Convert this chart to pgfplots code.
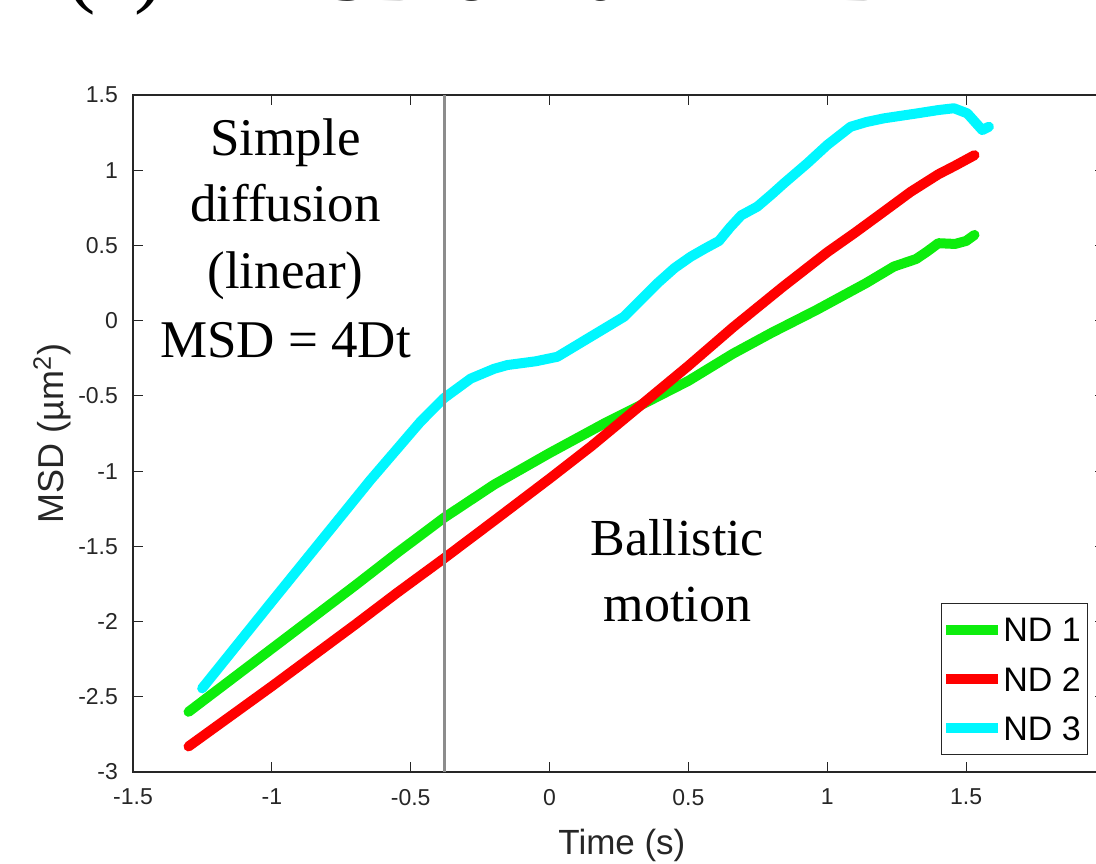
\documentclass[border=0pt]{standalone}
\usepackage{pgfplots}
\pgfplotsset{compat=1.18}
\usepackage{fontspec}
\setmainfont{Liberation Sans}
\newfontfamily\seriffont{Liberation Serif}
\definecolor{ndgreen}{rgb}{0.05,0.93,0.05}
\definecolor{ndred}{rgb}{1,0,0}
\definecolor{ndcyan}{rgb}{0,0.97,1}
\definecolor{axgray}{rgb}{0.15,0.15,0.15}
\definecolor{vgray}{rgb}{0.55,0.55,0.55}

\begin{document}
\begin{tikzpicture}
\path[use as bounding box, clip] (-66.5pt,-45.5pt) rectangle (481.5pt,386pt);
\node[anchor=base west, inner sep=0pt, font=\seriffont\fontsize{44}{44}\selectfont] at (-33.5pt,387.5pt) {(c)};
\node[anchor=base west, inner sep=0pt, font=\seriffont\bfseries\fontsize{41}{41}\selectfont] at (57.5pt,385.8pt) {MSD of 10 nm ND};
\begin{axis}[
  scale only axis, width=486pt, height=338.5pt,
  xmin=-1.5, xmax=2, ymin=-3, ymax=1.5,
  xtick={-1.5,-1,-0.5,0,0.5,1,1.5},
  ytick={-3,-2.5,-2,-1.5,-1,-0.5,0,0.5,1,1.5},
  /pgf/number format/assume math mode=true,
  tick label style={font=\fontsize{11.5}{13}\selectfont, text=axgray},
  xticklabel style={yshift=-5pt},
  yticklabel style={xshift=-4pt},
  axis line style={axgray, line width=0.8pt},
  tick style={axgray, line width=0.6pt},
  major tick length=5pt, tick align=inside,
  xlabel={Time (s)},
  ylabel={MSD (µm\textsuperscript{2})},
  label style={text=axgray},
  xlabel style={font=\fontsize{17.5}{19}\selectfont, at={(axis description cs:0.503,-0.108)}, anchor=center},
  ylabel style={font=\fontsize{18}{20}\selectfont, at={(axis description cs:-0.0833,0.5)}, anchor=center},
  legend cell align=left,
  legend image code/.code={\draw[#1, line width=5pt, line cap=butt] (0pt,0pt) -- (26pt,0pt);},
  legend style={at={(axis description cs:0.831,0.250)}, anchor=north west,
    draw=axgray, line width=0.6pt, fill=white,
    font=\fontsize{17}{17}\selectfont,
    inner xsep=0pt, inner ysep=7pt, row sep=12.5pt,
    nodes={inner sep=0pt, text height=12.2pt, text depth=0pt},
    /tikz/every odd column/.append style={column sep=0pt}},
]
\addplot[ndgreen, line width=5pt, line cap=round, line join=round] coordinates {
(-1.30,-2.60) (-1.15,-2.39) (-1.00,-2.18) (-0.85,-1.97) (-0.70,-1.76)
(-0.55,-1.545) (-0.38,-1.31) (-0.20,-1.09) (0.00,-0.88) (0.20,-0.68)
(0.33,-0.56) (0.50,-0.40) (0.66,-0.22) (0.80,-0.08) (0.96,0.07)
(1.05,0.16) (1.14,0.25) (1.24,0.36) (1.32,0.41) (1.36,0.46)
(1.40,0.515) (1.46,0.51) (1.50,0.53) (1.53,0.57)};
\addlegendentry{ND 1\hspace*{3.5pt}}
\addplot[ndred, line width=5pt, line cap=round, line join=round] coordinates {
(-1.30,-2.83) (-1.15,-2.63) (-1.00,-2.43) (-0.85,-2.225) (-0.70,-2.02)
(-0.55,-1.81) (-0.38,-1.58) (-0.20,-1.33) (0.00,-1.05) (0.15,-0.835)
(0.33,-0.56) (0.50,-0.30) (0.66,-0.045) (0.75,0.09) (0.84,0.225)
(0.92,0.34) (1.00,0.455) (1.10,0.585) (1.20,0.72) (1.30,0.856)
(1.40,0.973) (1.46,1.03) (1.53,1.10)};
\addlegendentry{ND 2\hspace*{3.5pt}}
\addplot[ndcyan, line width=5pt, line cap=round, line join=round] coordinates {
(-1.251,-2.444) (-1.005,-1.879) (-0.825,-1.469) (-0.645,-1.059) (-0.465,-0.672)
(-0.381,-0.516) (-0.284,-0.385) (-0.20,-0.32) (-0.152,-0.295) (-0.05,-0.27)
(0.028,-0.240) (0.148,-0.107) (0.268,0.026) (0.388,0.248) (0.45,0.35)
(0.508,0.425) (0.56,0.48) (0.61,0.53) (0.65,0.62) (0.69,0.70)
(0.748,0.758) (0.80,0.84) (0.844,0.913) (0.928,1.046) (1.00,1.168)
(1.05,1.24) (1.084,1.289) (1.14,1.32) (1.204,1.345) (1.324,1.378)
(1.40,1.40) (1.456,1.412) (1.504,1.378) (1.558,1.267) (1.582,1.289)};
\addlegendentry{ND 3\hspace*{3.5pt}}
\addplot[vgray, line width=1.5pt, forget plot] coordinates {(-0.378,-3) (-0.378,1.5)};
\node[anchor=base, font=\seriffont\fontsize{26.5}{26.5}\selectfont] at (axis cs:-0.951,1.101) {Simple};
\node[anchor=base, font=\seriffont\fontsize{26.5}{26.5}\selectfont] at (axis cs:-0.951,0.658) {diffusion};
\node[anchor=base, font=\seriffont\fontsize{26.5}{26.5}\selectfont] at (axis cs:-0.951,0.217) {(linear)};
\node[anchor=base, font=\seriffont\fontsize{26.5}{26.5}\selectfont] at (axis cs:-0.951,-0.248) {MSD = 4Dt};
\node[anchor=base, font=\seriffont\fontsize{26}{26}\selectfont] at (axis cs:0.46,-1.558) {Ballistic};
\node[anchor=base, font=\seriffont\fontsize{26}{26}\selectfont] at (axis cs:0.46,-2.001) {motion};
\end{axis}
\end{tikzpicture}
\end{document}
